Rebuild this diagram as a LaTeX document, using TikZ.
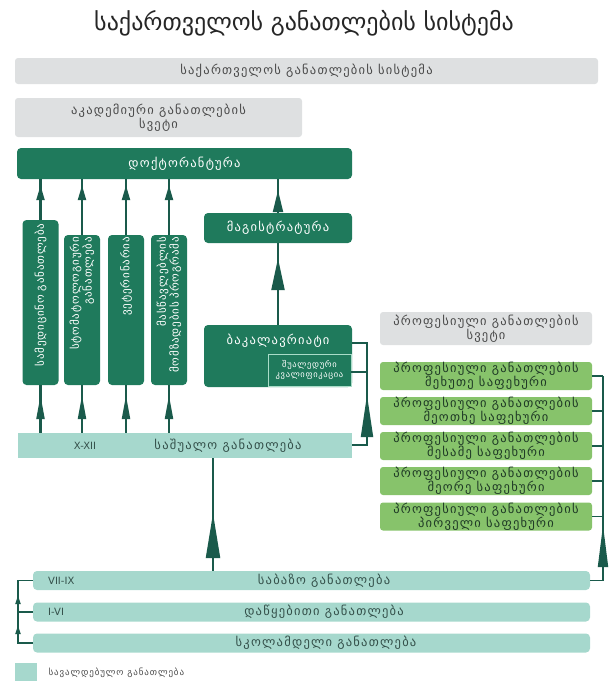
\documentclass[tikz,border=0pt]{standalone}
\usepackage{fontspec}
\setmainfont{DejaVu Sans}
\newfontfamily\geo{DejaVu Sans}
\newfontfamily\geocap[LetterSpace=10]{DejaVu Sans}
\newfontfamily\geovert[LetterSpace=8]{DejaVu Sans}
\usetikzlibrary{arrows.meta}
\definecolor{dgc}{HTML}{1F7A5C}
\definecolor{ac}{HTML}{1A5A4B}
\definecolor{grayc}{HTML}{DEE0E1}
\definecolor{graytext}{HTML}{4A4A4A}
\definecolor{tealc}{HTML}{A6D8CD}
\definecolor{tealtext}{HTML}{34504A}
\definecolor{lgc}{HTML}{87C36B}
\definecolor{lgtext}{HTML}{1F3A26}
\definecolor{innerc}{HTML}{A9DCC8}
\begin{document}
\begin{tikzpicture}[x=1pt,y=-1pt,
  lbl/.style={font=\geocap\fontsize{12.5}{11.5}\selectfont},
  latin/.style={font=\geo\fontsize{10}{12}\selectfont},
  graybox/.style={fill=grayc, rounded corners=3pt, text=graytext, align=center, inner sep=0pt, lbl},
  dkbox/.style={fill=dgc, rounded corners=4pt, text=white, align=center, inner sep=0pt, lbl},
  tealbox/.style={fill=tealc, inner sep=0pt},
  tealbar/.style={fill=tealc, rounded corners=4pt, inner sep=0pt},
  tealtext/.style={text=tealtext, inner sep=0pt, lbl},
  lgbox/.style={fill=lgc, rounded corners=3pt, text=lgtext, align=center, inner sep=0pt, lbl, minimum width=212, minimum height=28},
  vbox/.style={dkbox, rotate=90, minimum height=36, minimum width=150, text width=146, align=right, font=\geovert\fontsize{11}{11.5}\selectfont},
  conn/.style={draw=ac, line width=2.2pt},
  bk/.style={draw=ac, line width=1.8pt, line join=miter},
]
\useasboundingbox (0,0) rectangle (609,681);

% title
\node[font=\geo\fontsize{24}{28}\selectfont, text=black!85] (title) at (304,23) {საქართველოს განათლების სისტემა};

% header
\node[graybox, minimum width=583, minimum height=26] (hdr) at (306.5,71) {საქართველოს განათლების სისტემა};
\node[graybox, minimum width=287, minimum height=39] (acad) at (158.5,117.5) {აკადემიური განათლების\\სვეტი};

% academic column
\node[dkbox, minimum width=335, minimum height=31] (doc) at (184.5,163.5) {დოქტორანტურა};
\node[vbox, minimum width=165, text width=158] (v1) at (40.5,302.5) {სამედიცინო განათლება};
\node[vbox] (v2) at (82,310) {სტომატოლოგიური\\განათლება};
\node[vbox] (v3) at (126,310) {ვეტერინარია};
\node[vbox] (v4) at (169,310) {მასწავლებლის\\მომზადების პროგრამა};
\node[dkbox, minimum width=148, minimum height=30] (mag) at (278,228) {მაგისტრატურა};
\node[dkbox, minimum width=148, minimum height=62] (bach) at (278,356) {};
\node[text=white, lbl] (bachl) at (278,341) {ბაკალავრიატი};
\node[draw=innerc, line width=0.6pt, minimum width=83, minimum height=32, inner sep=0pt, text=white, align=center,
      font=\geovert\fontsize{8.5}{9.5}\selectfont] (short) at (309.5,370) {შუალედური\\კვალიფიკაცია};

% secondary
\node[tealbox, minimum width=334, minimum height=25] (sec) at (185,445.5) {};
\node[tealtext, latin] (secx) at (85,445.5) {X-XII};
\node[tealtext] (secl) at (228,445.5) {საშუალო განათლება};

% professional column
\node[graybox, minimum width=212, minimum height=33] (profh) at (486,328.5) {პროფესიული განათლების\\სვეტი};
\node[lgbox] (p5) at (486,376) {პროფესიული განათლების\\მეხუთე საფეხური};
\node[lgbox] (p4) at (486,411) {პროფესიული განათლების\\მეოთხე საფეხური};
\node[lgbox] (p3) at (486,446) {პროფესიული განათლების\\მესამე საფეხური};
\node[lgbox] (p2) at (486,481) {პროფესიული განათლების\\მეორე საფეხური};
\node[lgbox] (p1) at (486,516.5) {პროფესიული განათლების\\პირველი საფეხური};

% bottom bars
\node[tealbar, minimum width=557, minimum height=19] (basic) at (311.5,580.5) {};
\node[tealtext, latin, anchor=west] (basicx) at (48,580.5) {VII-IX};
\node[tealtext] (basicl) at (324,580.5) {საბაზო განათლება};
\node[tealbar, minimum width=557, minimum height=19] (prim) at (311.5,612) {};
\node[tealtext, latin, anchor=west] (primx) at (48,612) {I-VI};
\node[tealtext] (priml) at (324,612) {დაწყებითი განათლება};
\node[tealbar, minimum width=557, minimum height=19] (pre) at (311.5,643) {};
\node[tealtext] (prel) at (326,643) {სკოლამდელი განათლება};

% legend
\node[fill=tealc, minimum width=22, minimum height=18, inner sep=0pt] (leg) at (26,672) {};
\node[anchor=west, text=graytext, font=\geocap\fontsize{9}{10}\selectfont] (legt) at (45,673) {სავალდებულო განათლება};

% coordinates
\coordinate (bk1) at (367,343);
\coordinate (bk2) at (367,372);
\coordinate (bk3) at (367,445);
\coordinate (bk4) at (367,395);
\coordinate (rbx) at (603,0);
\coordinate (rtip) at (603,525);
\coordinate (lbx) at (18,0);
\coordinate (lt1) at (18,625);
\coordinate (lt2) at (18,595);
\coordinate (bsx) at (213,0);

% arrows into doctorate
\foreach \v in {v1,v2,v3,v4}{
  \draw[conn] (\v.east) -- (\v.east |- doc.south);
  \draw[conn, -{Triangle[length=15pt,width=8pt]}, shorten >=6pt] (\v.east) -- (\v.east |- doc.south);
  \draw[conn] (sec.north -| \v.west) -- (\v.west);
  \draw[conn, -{Triangle[length=24pt,width=8pt]}, shorten >=10pt] (sec.north -| \v.west) -- (\v.west);
}
\draw[conn] (mag.north) -- (mag.north |- doc.south);
\draw[conn, -{Triangle[length=22pt,width=10pt]}, shorten >=11pt] (mag.north) -- (mag.north |- doc.south);
\draw[conn] (bach.north) -- (mag.south);
\draw[conn, -{Triangle[length=32pt,width=13pt]}, shorten >=15pt] (bach.north) -- (mag.south);
\draw[conn] (basic.north -| bsx) -- (sec.south -| bsx);
\draw[conn, -{Triangle[length=45pt,width=14pt]}, shorten >=55pt] (basic.north -| bsx) -- (sec.south -| bsx);

% bachelor bracket
\draw[bk] (bach.east |- bk1) -- (bk1) -- (bk3) -- (sec.east |- bk3);
\draw[bk] (short.east |- bk2) -- (bk2);
\draw[bk, -{Triangle[length=42pt,width=12pt]}] (bk3) -- (bk4);

% right bracket
\foreach \p in {p5,p4,p3,p2,p1}{
  \draw[bk] (\p.east) -- (\p.east -| rbx);
}
\draw[bk] (p5.east -| rbx) -- (basic.east -| rbx) -- (basic.east);
\draw[bk, -{Triangle[length=42pt,width=10pt]}] (basic.east -| rbx) -- (rtip);

% left bracket
\draw[bk] (basic.west) -- (basic.west -| lbx) -- (pre.west -| lbx) -- (pre.west);
\draw[bk] (prim.west) -- (prim.west -| lbx);
\draw[bk, -{Triangle[length=9pt,width=5pt]}] (pre.west -| lbx) -- (lt1);
\draw[bk, -{Triangle[length=9pt,width=5pt]}] (prim.west -| lbx) -- (lt2);
\end{tikzpicture}
\end{document}
